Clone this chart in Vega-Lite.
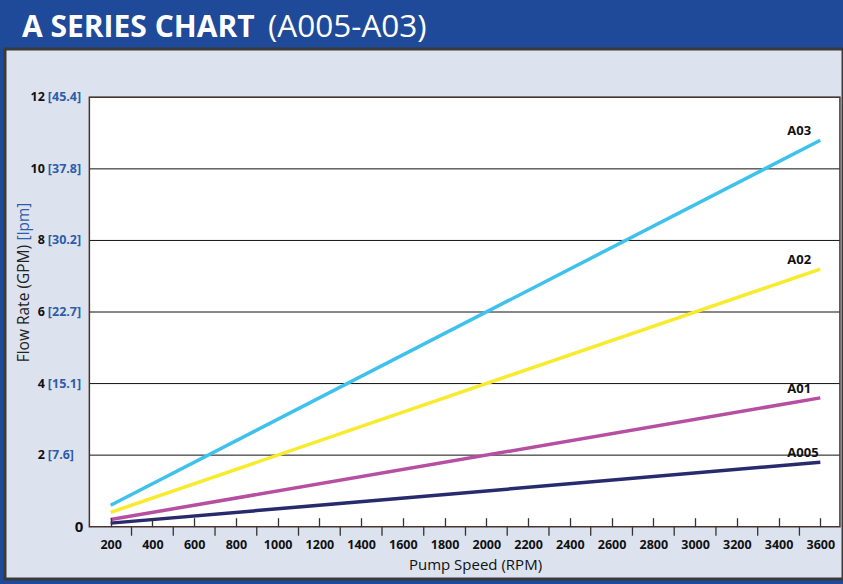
{
  "$schema": "https://vega.github.io/schema/vega-lite/v6.json",
  "autosize": "none",
  "width": 838,
  "height": 530,
  "padding": {"left": 5, "top": 49, "right": 0, "bottom": 5},
  "background": "#1f4a99",
  "view": {"fill": "#dce3ef", "stroke": "#3a3a3a", "strokeWidth": 3},
  "config": {"font": "Open Sans"},
  "datasets": {
    "flow": [
      {"series": "A03", "rpm": 200, "gpm": 0.6},
      {"series": "A03", "rpm": 3600, "gpm": 10.8},
      {"series": "A02", "rpm": 200, "gpm": 0.4},
      {"series": "A02", "rpm": 3600, "gpm": 7.2},
      {"series": "A01", "rpm": 200, "gpm": 0.2},
      {"series": "A01", "rpm": 3600, "gpm": 3.6},
      {"series": "A005", "rpm": 200, "gpm": 0.1},
      {"series": "A005", "rpm": 3600, "gpm": 1.8}
    ],
    "grid": [{"gpm": 2}, {"gpm": 4}, {"gpm": 6}, {"gpm": 8}, {"gpm": 10}, {"gpm": 12}],
    "minor": [{"rpm": 300}, {"rpm": 500}, {"rpm": 700}, {"rpm": 900}, {"rpm": 1100}, {"rpm": 1300}, {"rpm": 1500}, {"rpm": 1700}, {"rpm": 1900}, {"rpm": 2100}, {"rpm": 2300}, {"rpm": 2500}, {"rpm": 2700}, {"rpm": 2900}, {"rpm": 3100}, {"rpm": 3300}, {"rpm": 3500}],
    "ylab": [
      {"gpm": 0, "num": "0", "lpm": ""},
      {"gpm": 2, "num": "2", "lpm": "[7.6]"},
      {"gpm": 4, "num": "4", "lpm": "[15.1]"},
      {"gpm": 6, "num": "6", "lpm": "[22.7]"},
      {"gpm": 8, "num": "8", "lpm": "[30.2]"},
      {"gpm": 10, "num": "10", "lpm": "[37.8]"},
      {"gpm": 12, "num": "12", "lpm": "[45.4]"}
    ],
    "ytitle": [{"main": "Flow Rate (GPM)", "unit": "[lpm]"}],
    "head": [{"title": "A SERIES CHART", "range": "(A005-A03)"}]
  },
  "layer": [
    {
      "data": {"values": [{}]},
      "mark": {"type": "rect", "fill": "#ffffff", "stroke": null},
      "encoding": {
        "x": {
          "datum": 98, "type": "quantitative",
          "scale": {"domain": [-306.2, 3708.7], "nice": false, "zero": false},
          "axis": {
            "title": "Pump Speed (RPM)",
            "values": [200, 400, 600, 800, 1000, 1200, 1400, 1600, 1800, 2000, 2200, 2400, 2600, 2800, 3000, 3200, 3400, 3600],
            "format": "d",
            "offset": -52.3,
            "zindex": 1,
            "domain": false,
            "grid": false,
            "ticks": true,
            "tickSize": -9,
            "tickColor": "#333333",
            "tickWidth": 1.3,
            "labelOverlap": false,
            "labelFlush": false,
            "labelFont": "Open Sans",
            "labelFontWeight": "bold",
            "labelFontSize": 12.5,
            "labelColor": "#111111",
            "labelPadding": 21,
            "labelBaseline": "top",
            "titleFont": "Open Sans",
            "titleFontWeight": "normal",
            "titleFontSize": 15,
            "titleColor": "#111111",
            "titleX": 470,
            "titleY": 42.5,
            "titleAlign": "center",
            "titleBaseline": "alphabetic"
          }
        },
        "x2": {"datum": 3694},
        "y": {
          "datum": 0, "type": "quantitative",
          "scale": {"domain": [-1.4616, 13.35], "nice": false, "zero": false},
          "axis": null
        },
        "y2": {"datum": 12}
      }
    },
    {
      "data": {"name": "grid"},
      "mark": {"type": "rule", "color": "#111111", "strokeWidth": 1},
      "encoding": {
        "x": {"datum": 98, "type": "quantitative"},
        "x2": {"datum": 3694},
        "y": {"field": "gpm", "type": "quantitative"}
      }
    },
    {
      "data": {"name": "minor"},
      "mark": {"type": "rule", "color": "#333333", "strokeWidth": 1.3},
      "encoding": {
        "x": {"field": "rpm", "type": "quantitative"},
        "y": {"datum": 0, "type": "quantitative"},
        "y2": {"datum": -0.2515}
      }
    },
    {
      "data": {"name": "flow"},
      "mark": {"type": "line", "strokeWidth": 3.5, "strokeCap": "butt"},
      "encoding": {
        "x": {"field": "rpm", "type": "quantitative"},
        "y": {"field": "gpm", "type": "quantitative"},
        "color": {
          "field": "series", "type": "nominal",
          "scale": {"domain": ["A03", "A02", "A01", "A005"], "range": ["#3ec2ec", "#f8ea2c", "#b64fa1", "#272a6c"]},
          "legend": null
        }
      }
    },
    {
      "data": {"name": "flow"},
      "transform": [{"filter": "datum.rpm === 3600"}],
      "mark": {"type": "text", "align": "left", "baseline": "alphabetic", "dx": -33, "dy": -5, "fontWeight": "bold", "fontSize": 13, "color": "#111111"},
      "encoding": {
        "x": {"field": "rpm", "type": "quantitative"},
        "y": {"field": "gpm", "type": "quantitative"},
        "text": {"field": "series"}
      }
    },
    {
      "data": {"values": [{}]},
      "mark": {"type": "rect", "filled": false, "stroke": "#4a3333", "strokeWidth": 1.5},
      "encoding": {
        "x": {"datum": 98, "type": "quantitative"},
        "x2": {"datum": 3694},
        "y": {"datum": 0, "type": "quantitative"},
        "y2": {"datum": 12}
      }
    },
    {
      "data": {"name": "ylab"},
      "transform": [{"filter": "datum.gpm > 0"}],
      "mark": {"type": "text", "align": "right", "baseline": "middle", "dx": -44.5, "fontWeight": "bold", "fontSize": 12.5, "color": "#111111"},
      "encoding": {
        "x": {"datum": 98, "type": "quantitative"},
        "y": {"field": "gpm", "type": "quantitative"},
        "text": {"field": "num"}
      }
    },
    {
      "data": {"name": "ylab"},
      "transform": [{"filter": "datum.gpm > 0"}],
      "mark": {"type": "text", "align": "left", "baseline": "middle", "dx": -41.5, "fontWeight": "bold", "fontSize": 12.5, "color": "#2f5ca8"},
      "encoding": {
        "x": {"datum": 98, "type": "quantitative"},
        "y": {"field": "gpm", "type": "quantitative"},
        "text": {"field": "lpm"}
      }
    },
    {
      "data": {"name": "ylab"},
      "transform": [{"filter": "datum.gpm === 0"}],
      "mark": {"type": "text", "align": "right", "baseline": "middle", "dx": -6, "fontWeight": "bold", "fontSize": 15, "color": "#111111"},
      "encoding": {
        "x": {"datum": 98, "type": "quantitative"},
        "y": {"field": "gpm", "type": "quantitative"},
        "text": {"field": "num"}
      }
    },
    {
      "data": {"name": "ytitle"},
      "mark": {"type": "text", "angle": 270, "align": "right", "baseline": "middle", "dx": -2, "fontSize": 15.5, "color": "#222222"},
      "encoding": {
        "x": {"datum": -215.2, "type": "quantitative"},
        "y": {"datum": 7.93, "type": "quantitative"},
        "text": {"field": "main"}
      }
    },
    {
      "data": {"name": "ytitle"},
      "mark": {"type": "text", "angle": 270, "align": "left", "baseline": "middle", "dx": 2.5, "fontSize": 15.5, "color": "#2f5ca8"},
      "encoding": {
        "x": {"datum": -215.2, "type": "quantitative"},
        "y": {"datum": 7.93, "type": "quantitative"},
        "text": {"field": "unit"}
      }
    },
    {
      "data": {"name": "head"},
      "mark": {"type": "text", "align": "left", "baseline": "alphabetic", "dx": 17, "dy": -12, "fontSize": 30, "fontWeight": "bold", "color": "#ffffff"},
      "encoding": {
        "x": {"datum": -306.2, "type": "quantitative"},
        "y": {"datum": 13.35, "type": "quantitative"},
        "text": {"field": "title"}
      }
    },
    {
      "data": {"name": "head"},
      "mark": {"type": "text", "align": "left", "baseline": "alphabetic", "dx": 263, "dy": -12, "fontSize": 31.5, "fontWeight": "normal", "color": "#ffffff"},
      "encoding": {
        "x": {"datum": -306.2, "type": "quantitative"},
        "y": {"datum": 13.35, "type": "quantitative"},
        "text": {"field": "range"}
      }
    }
  ]
}
